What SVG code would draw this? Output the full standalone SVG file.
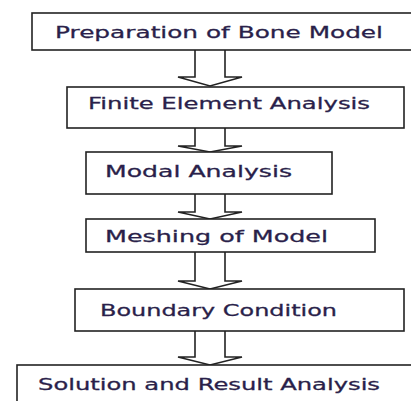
<svg xmlns="http://www.w3.org/2000/svg" width="411" height="401" viewBox="0 0 411 401">
<style>
.box{fill:#fff;stroke:#222;stroke-width:1.6}
.arr{fill:#fff;stroke:#222;stroke-width:1.6;stroke-linejoin:miter}
.t{font-family:"DejaVu Sans",Verdana,sans-serif;font-size:16.5px;fill:#2a1f4a;stroke:#2a1f4a;stroke-width:0.3}
</style>
<rect width="411" height="401" fill="#fff"/>
<g id="connectors">
<polyline class="arr" points="195,50 195,77 178,77 210,86 242,77 225,77 225,50"/>
<polyline class="arr" points="195,128 195,146 178,146 210,152 242,146 225,146 225,128"/>
<polyline class="arr" points="195,194 195,212 178,212 210,219 242,212 225,212 225,194"/>
<polyline class="arr" points="195,252 195,281 178,281 210,289 242,281 225,281 225,252"/>
<polyline class="arr" points="195,331 195,357 178,357 210,365 242,357 225,357 225,331"/>
</g>
<g id="n1"><rect class="box" x="32" y="13" width="390" height="37"/><text class="t" x="55" y="38" textLength="328" lengthAdjust="spacingAndGlyphs">Preparation of Bone Model</text></g>
<g id="n2"><rect class="box" x="67" y="87" width="337" height="41"/><text class="t" x="88" y="109" textLength="282" lengthAdjust="spacingAndGlyphs">Finite Element Analysis</text></g>
<g id="n3"><rect class="box" x="86" y="152" width="246" height="42"/><text class="t" x="105" y="177" textLength="187" lengthAdjust="spacingAndGlyphs">Modal Analysis</text></g>
<g id="n4"><rect class="box" x="86" y="219" width="289" height="33"/><text class="t" x="105" y="242" textLength="223" lengthAdjust="spacingAndGlyphs">Meshing of Model</text></g>
<g id="n5"><rect class="box" x="75" y="289" width="329" height="42"/><text class="t" x="100" y="316" textLength="237" lengthAdjust="spacingAndGlyphs">Boundary Condition</text></g>
<g id="n6"><rect class="box" x="17" y="365" width="410" height="50"/><text class="t" x="38" y="390" textLength="342" lengthAdjust="spacingAndGlyphs">Solution and Result Analysis</text></g>
</svg>
